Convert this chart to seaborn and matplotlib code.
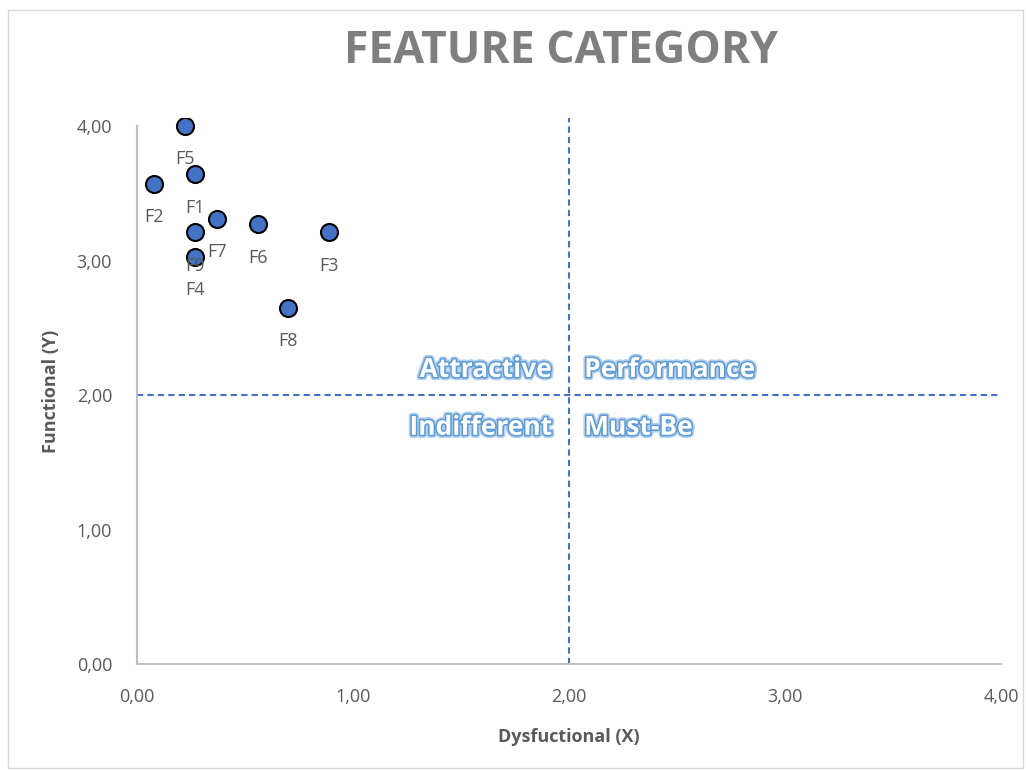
import matplotlib
matplotlib.use("Agg")
import matplotlib.pyplot as plt
import matplotlib.patheffects as pe
from matplotlib.patches import Rectangle
import seaborn as sns
import pandas as pd

# data
features = ["F5", "F1", "F2", "F7", "F6", "F3", "F9", "F4", "F8"]
dysfunctional = [0.22, 0.27, 0.08, 0.37, 0.56, 0.89, 0.27, 0.27, 0.70]
functional = [4.00, 3.64, 3.57, 3.31, 3.27, 3.21, 3.21, 3.03, 2.65]

x_ticks = [0, 1, 2, 3, 4]
y_ticks = [0, 1, 2, 3, 4]
tick_labels = ["0,00", "1,00", "2,00", "3,00", "4,00"]

quadrants = ["Attractive", "Performance", "Indifferent", "Must-Be"]
quad_x = [1.92, 2.07, 1.92, 2.07]
quad_y = [2.19, 2.19, 1.76, 1.76]
quad_ha = ["right", "left", "right", "left"]

df = pd.DataFrame({"feature": features, "x": dysfunctional, "y": functional})

sns.set_style("white")
plt.rcParams["font.family"] = ["Open Sans", "DejaVu Sans"]

grey = "#595959"
fig = plt.figure(figsize=(10.26, 7.71), dpi=100)
ax = fig.add_axes([137 / 1026, 1 - 664 / 771, 864 / 1026, 546 / 771])

# chart border
fig.patches.append(Rectangle((8 / 1026, 3 / 771), 1015 / 1026, 758 / 771,
                             transform=fig.transFigure, fill=False,
                             edgecolor="#d9d9d9", linewidth=1))

# quadrant lines
ax.plot([2, 2], [0, 4.06], ls=(0, (3, 2)), color="#4472C4", lw=1.5, zorder=1)
ax.plot([0, 4], [2, 2], ls=(0, (3, 2)), color="#4472C4", lw=1.5, zorder=1)

sns.scatterplot(data=df, x="x", y="y", ax=ax, s=150, color="#4472C4",
                edgecolor="black", linewidth=1.5, zorder=3)

for _, r in df.iterrows():
    ax.annotate(r["feature"], (r["x"], r["y"]), xytext=(0, -24),
                textcoords="offset points", ha="center", va="center",
                fontsize=13, color=grey, zorder=4)

for lab, qx, qy, ha in zip(quadrants, quad_x, quad_y, quad_ha):
    ax.text(qx, qy, lab, ha=ha, va="center", fontsize=19, fontweight="bold",
            color="white", family=["Open Sans", "DejaVu Sans"],
            path_effects=[pe.withStroke(linewidth=4.5, foreground="#b4cfee"),
                          pe.withStroke(linewidth=2.2, foreground="#5B9BD5")])

ax.set_xlim(0, 4)
ax.set_ylim(0, 4.06)
ax.set_xticks(x_ticks)
ax.set_xticklabels(tick_labels)
ax.set_yticks(y_ticks)
ax.set_yticklabels(tick_labels)
ax.tick_params(axis="both", length=0, labelsize=13, labelcolor=grey)
ax.tick_params(axis="x", pad=17)
ax.tick_params(axis="y", pad=18)

for side in ["top", "right"]:
    ax.spines[side].set_visible(False)
ax.spines["left"].set_color("#bfbfbf")
ax.spines["bottom"].set_color("#bfbfbf")
ax.spines["left"].set_bounds(0, 4)
ax.spines["left"].set_linewidth(1.5)
ax.spines["bottom"].set_linewidth(1.5)

ax.set_xlabel("Dysfuctional (X)", fontsize=13, fontweight="bold", color=grey, labelpad=16)
ax.set_ylabel("Functional (Y)", fontsize=13, fontweight="bold", color=grey, labelpad=12)

fig.text(0.547, 0.933, "FEATURE CATEGORY", ha="center", va="center",
         fontsize=32, fontweight="bold", color="#7f7f7f")

fig.savefig("out.png", dpi=100)
